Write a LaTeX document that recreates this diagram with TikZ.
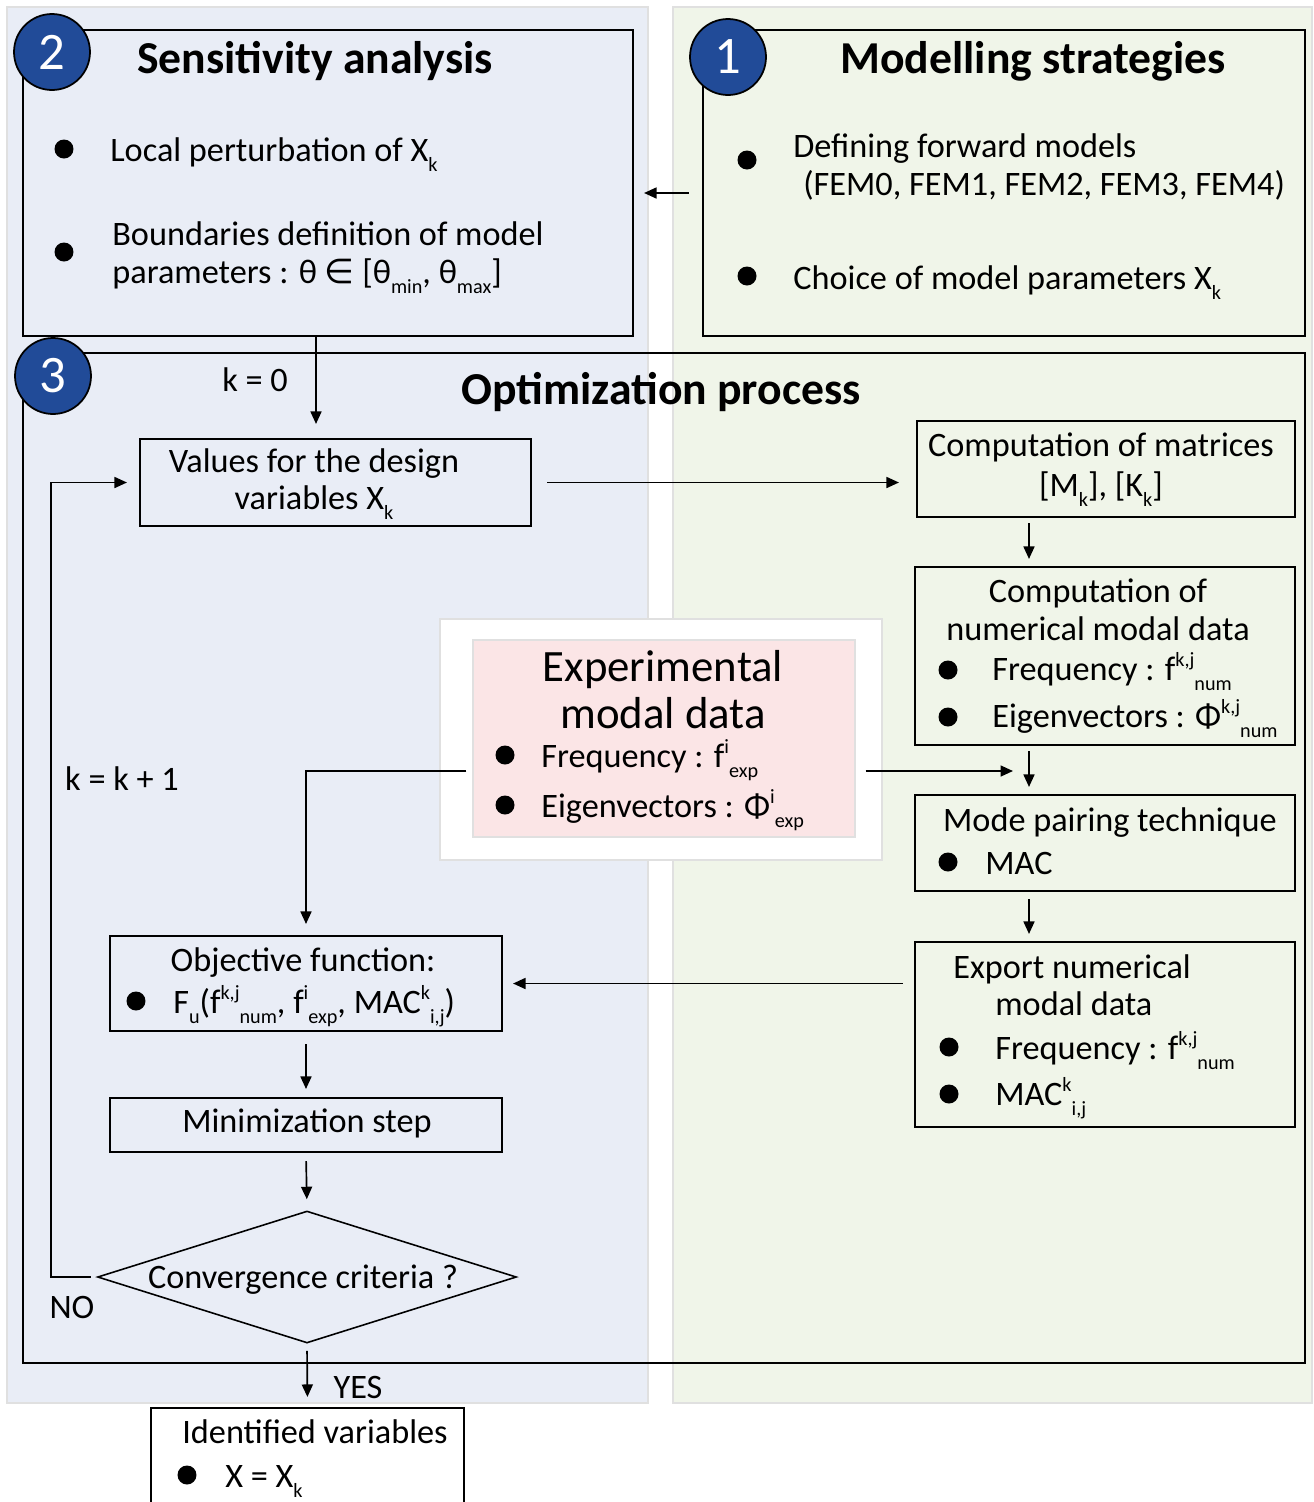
\documentclass[tikz,border=0pt]{standalone}
\usepackage{fontspec}
\setmainfont{Carlito}
\newfontfamily\dejavu{DejaVu Sans}
\usetikzlibrary{arrows.meta,shapes.geometric,fit}

\definecolor{paneblue}{RGB}{233,237,246}
\definecolor{panegreen}{RGB}{240,245,233}
\definecolor{panepink}{RGB}{251,229,230}
\definecolor{paneline}{RGB}{224,224,224}
\definecolor{numblue}{RGB}{33,75,152}

\newcommand{\bodyfs}{\fontsize{19.5}{23}\selectfont}
\newcommand{\headfs}{\fontsize{26}{30}\selectfont\bfseries}
\newcommand{\expfs}{\fontsize{25.5}{30}\selectfont}
\newcommand{\subt}[1]{\raisebox{-0.32em}{\fontsize{11.5}{12}\selectfont #1}}
\newcommand{\supt}[1]{\raisebox{0.38em}{\fontsize{11.5}{12}\selectfont #1}}

\tikzset{
  box/.style={draw, line width=1.2pt, inner sep=0pt},
  num/.style={circle, draw=black, line width=1pt, fill=numblue, text=white,
    minimum size=1.52cm, inner sep=0pt, font=\fontsize{30}{30}\selectfont},
  head/.style={anchor=base, inner sep=0pt, font=\headfs},
  txt/.style={anchor=base west, inner sep=0pt, font=\bodyfs},
  ctxt/.style={anchor=base, inner sep=0pt, font=\bodyfs},
  dot/.style={circle, fill=black, minimum size=0.38cm, inner sep=0pt},
  arr/.style={-{Triangle[length=0.25cm,width=0.22cm]}, line width=0.95pt}
}

\begin{document}
\begin{tikzpicture}[x=0.02cm,y=-0.02cm]
\clip (0,0) rectangle (1314,1502);
\fill[white] (0,0) rectangle (1314,1502);

% panels behind the boxes
\filldraw[fill=paneblue, draw=paneline, line width=0.8pt] (7,7) rectangle (648,1403);
\filldraw[fill=panegreen, draw=paneline, line width=0.8pt] (673,7) rectangle (1312,1403);
\filldraw[fill=white, draw=paneline, line width=0.8pt] (440,619) rectangle (882,860);
\node[fill=panepink, draw=paneline, line width=0.8pt, inner sep=0pt, fit={(473,640) (855,837)}] (expdata) {};

% boxes
\node[box, fit={(23,30) (633,336)}] (sens) {};
\node[box, fit={(703,30) (1305,336)}] (model) {};
\node[box, fit={(23,353) (1305,1363)}] (optim) {};
\node[box, fit={(140,439) (531,526)}] (values) {};
\node[box, fit={(917,421) (1295,517)}] (matrices) {};
\node[box, fit={(915,567) (1295,745)}] (numdata) {};
\node[box, fit={(915,795) (1295,891)}] (pairing) {};
\node[box, fit={(915,942) (1295,1127)}] (export) {};
\node[box, fit={(110,936) (502,1031)}] (objective) {};
\node[box, fit={(110,1098) (502,1152)}] (minim) {};
\node[draw, diamond, line width=0.9pt, aspect=3.2, inner sep=0pt,
  minimum width=8.38cm, minimum height=2.64cm] (conv) at (307,1277) {};
\node[box, fit={(151,1408) (464,1530)}] (ident) {};

% numbered circles
\node[num] (n2) at (52,52) {2};
\node[num] (n1) at (728,57) {1};
\node[num] (n3) at (53,376) {3};

% titles
\node[head] (sens-t) at (315,73) {Sensitivity analysis};
\node[head] (model-t) at (1033,73) {Modelling strategies};
\node[head] (optim-t) at (661,404) {Optimization process};

% bullets
\foreach \x/\y [count=\i] in {64/149, 64/252, 747/160, 747/276, 948/670, 948/717,
    948/862, 505/755, 505/805, 949/1047, 949/1094, 136/1001, 187/1475}
  \node[dot] (dot\i) at (\x,\y) {};

% texts
\node[txt] (sens-a) at (110,161) {Local perturbation of X\subt{k}};
\node[txt] (sens-b) at (112,245) {Boundaries definition of model};
\node[txt] (sens-c) at (112,283) {parameters : θ {\dejavu ∈} [θ\subt{min}, θ\subt{max}]};
\node[txt] (model-a) at (793,157) {Defining forward models};
\node[txt] (model-b) at (803,195) {(FEM0, FEM1, FEM2, FEM3, FEM4)};
\node[txt] (model-c) at (793,289) {Choice of model parameters X\subt{k}};

\node[ctxt] (values-a) at (314,472) {Values for the design};
\node[ctxt] (values-b) at (314,509) {variables X\subt{k}};
\node[ctxt] (mat-a) at (1101,456) {Computation of matrices};
\node[ctxt] (mat-b) at (1101,496) {[M\subt{k}], [K\subt{k}]};
\node[ctxt] (num-a) at (1098,602) {Computation of};
\node[ctxt] (num-b) at (1098,640) {numerical modal data};
\node[txt] (num-c) at (992,680) {Frequency : f\supt{k,j}\subt{num}};
\node[txt] (num-d) at (992,727) {Eigenvectors : Φ\supt{k,j}\subt{num}};
\node[ctxt] (pair-a) at (1110,831) {Mode pairing technique};
\node[txt] (pair-b) at (985,874) {MAC};

\node[ctxt, font=\expfs] (exp-a) at (663,681) {Experimental};
\node[ctxt, font=\expfs] (exp-b) at (663,728) {modal data};
\node[txt] (exp-c) at (541,767) {Frequency : f\supt{i}\subt{exp}};
\node[txt] (exp-d) at (541,817) {Eigenvectors : Φ\supt{i}\subt{exp}};

\node[txt] (export-a) at (953,978) {Export numerical};
\node[txt] (export-b) at (995,1015) {modal data};
\node[txt] (export-c) at (995,1059) {Frequency : f\supt{k,j}\subt{num}};
\node[txt] (export-d) at (995,1105) {MAC\supt{k}\subt{i,j}};

\node[ctxt] (obj-a) at (303,971) {Objective function:};
\node[txt] (obj-b) at (173,1013) {F\subt{u}(f\supt{k,j}\subt{num}, f\supt{i}\subt{exp}, MAC\supt{k}\subt{i,j})};
\node[ctxt] (minim-t) at (307,1132) {Minimization step};
\node[ctxt] (conv-t) at (303,1288) {Convergence criteria ?};
\node[ctxt] (ident-a) at (315,1443) {Identified variables};
\node[txt] (ident-b) at (225,1487) {X = X\subt{k}};

\node[ctxt] (k0) at (255,391) {k = 0};
\node[ctxt] (kk) at (122,790) {k = k + 1};
\node[ctxt] (no) at (72,1318) {NO};
\node[ctxt] (yes) at (358,1398) {YES};

% connectors
\coordinate (kx) at (316,0);
\coordinate (rx) at (1029,0);
\coordinate (lx) at (51,0);
\coordinate (jn) at (1029,771);

\draw[arr, shorten <=0.26cm, shorten >=0.2cm] ([yshift=-0.2cm]model.west) -- ([yshift=-0.2cm]sens.east);
\draw[arr, shorten >=0.28cm] (kx |- sens.south) -- (kx |- values.north);
\draw[arr, shorten <=0.3cm, shorten >=0.34cm] (values.east) -- (values.east -| matrices.west);
\draw[arr, shorten <=0.1cm, shorten >=0.14cm] (rx |- matrices.south) -- (rx |- numdata.north);
\draw[arr, shorten <=0.1cm, shorten >=0.14cm] (rx |- numdata.south) -- (rx |- pairing.north);
\draw[arr, shorten <=0.2cm, shorten >=0.32cm] (expdata.east |- jn) -- (jn);
\draw[arr, shorten <=0.14cm, shorten >=0.14cm] (rx |- pairing.south) -- (rx |- export.north);
\draw[arr, shorten <=0.22cm, shorten >=0.2cm] (objective.east -| export.west) -- (objective.east);
\draw[arr, shorten <=0.12cm, shorten >=0.22cm] (expdata.west |- jn) -| (objective.north);
\draw[arr, shorten <=0.24cm, shorten >=0.16cm] (objective.south) -- (minim.north);
\draw[arr, shorten <=0.16cm, shorten >=0.22cm] (minim.south) -- (conv.north);
\draw[arr, shorten <=0.12cm, shorten >=0.24cm] (conv.west) -- (lx |- conv.west) -- (lx |- values.west) -- (values.west);
\draw[arr, shorten <=0.14cm, shorten >=0.2cm] (conv.south) -- (ident.north);
\end{tikzpicture}
\end{document}
